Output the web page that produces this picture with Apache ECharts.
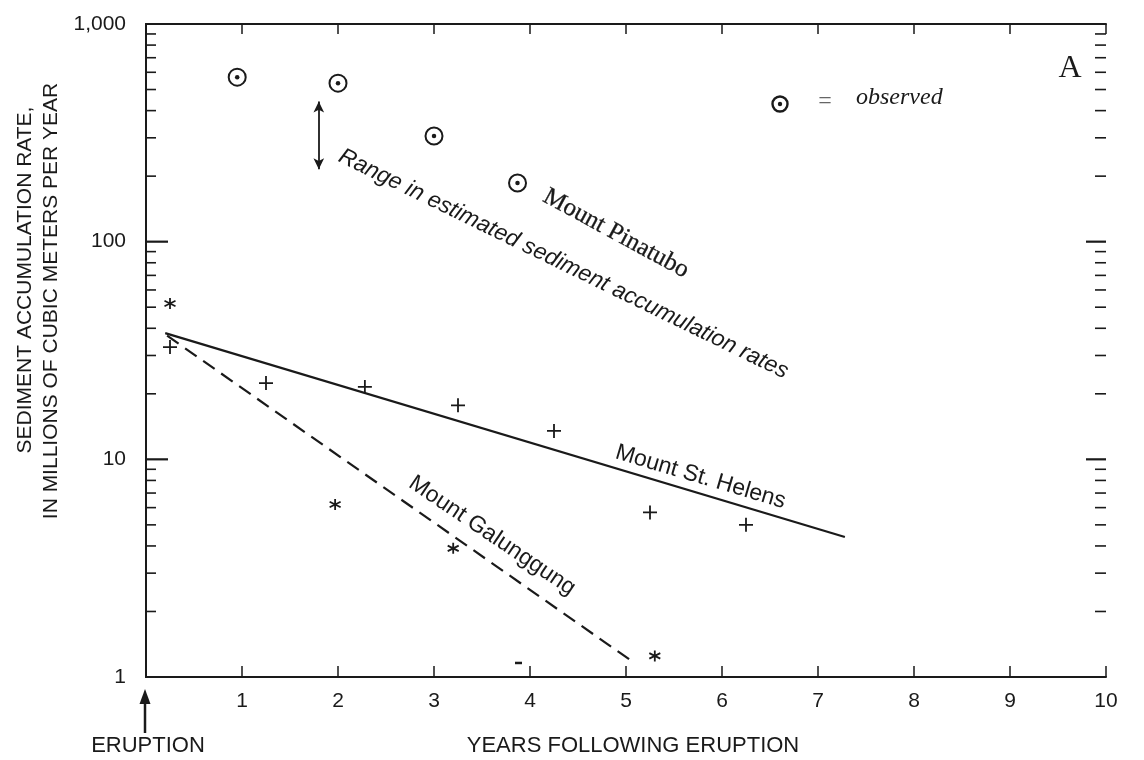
<!DOCTYPE html>
<html>
<head>
<meta charset="utf-8">
<script src="https://cdn.jsdelivr.net/npm/echarts@6/dist/echarts.min.js"></script>
<style>
  html, body { margin: 0; padding: 0; background: #fff; }
  #chart { width: 1144px; height: 760px; }
</style>
</head>
<body>
<div id="chart"></div>
<script>
// observed rates, Mount Pinatubo [years, rate]
const pinatuboYears = [0.95, 2.0, 3.0, 3.87];
const pinatuboRates = [570, 535, 306, 186];

// Mount St. Helens (+)
const helensYears = [0.25, 1.25, 2.28, 3.25, 4.25, 5.25, 6.25];
const helensRates = [32.8, 22.4, 21.5, 17.7, 13.5, 5.7, 5.0];

// Mount Galunggung (*)
const galunggungYears = [0.25, 1.97, 3.2, 5.3];
const galunggungRates = [52, 6.2, 3.9, 1.25];
const strayYears = [3.88];
const strayRates = [1.16];

// fitted trend lines (end points)
const helensFitYears = [0.2, 7.28];
const helensFitRates = [38, 4.4];
const galunggungFitYears = [0.22, 5.1];
const galunggungFitRates = [37, 1.15];

// range in estimated rates (double arrow)
const rangeYear = 1.8;
const rangeLow = 215;
const rangeHigh = 440;

// axis ticks
const xTickLabels = ['', '1', '2', '3', '4', '5', '6', '7', '8', '9', '10'];
const yTickLabels = ['1', '10', '100', '1,000'];
const yMajorTicks = [10, 100];
const yMinorTicks = [2, 3, 4, 5, 6, 7, 8, 9, 20, 30, 40, 50, 60, 70, 80, 90,
  200, 300, 400, 500, 600, 700, 800, 900];

const ink = '#1a1a1a';
const sans = '"Liberation Sans", Arial, Helvetica, sans-serif';
const serif = '"Liberation Serif", "Times New Roman", serif';

const pairs = (xs, ys) => xs.map((x, i) => [x, ys[i]]);
const deg = d => d * Math.PI / 180;

let myChart = echarts.init(document.getElementById('chart'));

let option = {
  backgroundColor: '#fff',
  animation: false,
  grid: { left: 146, right: 38, top: 24, bottom: 83 },
  xAxis: [
    {
      type: 'value', min: 0, max: 10, interval: 1,
      axisLine: { lineStyle: { color: ink, width: 2 } },
      axisTick: { inside: true, length: 11, lineStyle: { color: ink, width: 1.5 } },
      axisLabel: {
        margin: 14, color: ink, fontFamily: sans, fontSize: 21,
        formatter: (v) => xTickLabels[Math.round(v)]
      },
      splitLine: { show: false }
    },
    {
      type: 'value', min: 0, max: 10, interval: 1, position: 'top',
      axisLine: { lineStyle: { color: ink, width: 2 } },
      axisTick: { inside: true, length: 10, lineStyle: { color: ink, width: 1.5 } },
      axisLabel: { show: false },
      splitLine: { show: false }
    }
  ],
  yAxis: [
    {
      type: 'log', logBase: 10, min: 1, max: 1000,
      axisLine: { show: true, lineStyle: { color: ink, width: 2 } },
      axisTick: { show: false },
      axisLabel: {
        margin: 20, color: ink, fontFamily: sans, fontSize: 21,
        formatter: (v) => yTickLabels[Math.round(Math.log10(v))]
      },
      splitLine: { show: false }
    },
    {
      type: 'log', logBase: 10, min: 1, max: 1000, position: 'right',
      axisLine: { show: true, lineStyle: { color: ink, width: 2 } },
      axisTick: { show: false },
      axisLabel: { show: false },
      splitLine: { show: false }
    }
  ],
  series: [
    {
      // log ticks drawn inward on both y axes
      type: 'custom',
      silent: true,
      clip: false,
      data: yMajorTicks.concat(yMinorTicks).map(v => [0, v]),
      renderItem: function (params, api) {
        const v = api.value(1);
        const major = yMajorTicks.indexOf(v) >= 0;
        const pl = api.coord([0, v]);
        const pr = api.coord([10, v]);
        const ll = major ? 22 : 10;
        const lr = major ? 20 : 11;
        const w = major ? 2.2 : 1.6;
        return {
          type: 'group',
          children: [
            { type: 'line', shape: { x1: pl[0], y1: pl[1], x2: pl[0] + ll, y2: pl[1] },
              style: { stroke: ink, lineWidth: w } },
            { type: 'line', shape: { x1: pr[0] - lr, y1: pr[1], x2: pr[0], y2: pr[1] },
              style: { stroke: ink, lineWidth: w } }
          ]
        };
      }
    },
    {
      name: 'Mount St. Helens fit',
      type: 'line',
      symbol: 'none',
      silent: true,
      lineStyle: { color: ink, width: 2.2 },
      data: pairs(helensFitYears, helensFitRates)
    },
    {
      name: 'Mount Galunggung fit',
      type: 'line',
      symbol: 'none',
      silent: true,
      lineStyle: { color: ink, width: 2.2, type: [14, 8] },
      data: pairs(galunggungFitYears, galunggungFitRates)
    },
    {
      name: 'Mount St. Helens',
      type: 'scatter',
      symbol: 'path://M0,6H12M6,0V12',
      symbolSize: 14,
      itemStyle: { color: 'transparent', borderColor: ink, borderWidth: 1.8, opacity: 1 },
      data: pairs(helensYears, helensRates)
    },
    {
      name: 'Mount Galunggung',
      type: 'scatter',
      symbol: 'path://M5,0V10M0.7,2.5L9.3,7.5M0.7,7.5L9.3,2.5',
      symbolSize: 11,
      itemStyle: { color: 'transparent', borderColor: ink, borderWidth: 1.8, opacity: 1 },
      data: pairs(galunggungYears, galunggungRates)
    },
    {
      type: 'scatter',
      symbol: 'rect',
      symbolSize: [7, 2.5],
      itemStyle: { color: ink, opacity: 1 },
      data: pairs(strayYears, strayRates)
    },
    {
      name: 'Mount Pinatubo',
      type: 'scatter',
      symbol: 'emptyCircle',
      symbolSize: 17,
      itemStyle: { color: ink, borderColor: ink, borderWidth: 2.4, opacity: 1 },
      data: pairs(pinatuboYears, pinatuboRates),
      markLine: {
        silent: true,
        symbol: ['arrow', 'arrow'],
        symbolSize: [8, 11],
        label: { show: false },
        lineStyle: { color: ink, width: 1.8, type: 'solid', opacity: 1 },
        data: [[{ coord: [rangeYear, rangeLow] }, { coord: [rangeYear, rangeHigh] }]]
      }
    },
    {
      type: 'scatter',
      symbol: 'circle',
      symbolSize: 4.5,
      itemStyle: { color: ink, opacity: 1 },
      data: pairs(pinatuboYears, pinatuboRates)
    }
  ],
  graphic: [
    // y axis title
    {
      type: 'text', x: 25, y: 280, rotation: Math.PI / 2,
      style: { text: 'SEDIMENT ACCUMULATION RATE,', font: '21px ' + sans, fill: ink,
        textAlign: 'center', textVerticalAlign: 'middle' }
    },
    {
      type: 'text', x: 51, y: 301, rotation: Math.PI / 2,
      style: { text: 'IN MILLIONS OF CUBIC METERS PER YEAR', font: '21px ' + sans, fill: ink,
        textAlign: 'center', textVerticalAlign: 'middle' }
    },
    // x axis title
    {
      type: 'text', x: 633, y: 746,
      style: { text: 'YEARS FOLLOWING ERUPTION', font: '22px ' + sans, fill: ink,
        textAlign: 'center', textVerticalAlign: 'middle' }
    },
    {
      type: 'text', x: 148, y: 746,
      style: { text: 'ERUPTION', font: '22px ' + sans, fill: ink,
        textAlign: 'center', textVerticalAlign: 'middle' }
    },
    {
      type: 'line', shape: { x1: 145, y1: 733, x2: 145, y2: 700 },
      style: { stroke: ink, lineWidth: 2.5 }
    },
    {
      type: 'polygon', shape: { points: [[145, 689], [139.5, 704], [150.5, 704]] },
      style: { fill: ink }
    },
    // panel letter and legend
    {
      type: 'text', x: 1070, y: 69,
      style: { text: 'A', font: '32px ' + serif, fill: ink,
        textAlign: 'center', textVerticalAlign: 'middle' }
    },
    {
      type: 'circle', shape: { cx: 780, cy: 104, r: 7.5 },
      style: { fill: '#fff', stroke: ink, lineWidth: 2.4 }
    },
    {
      type: 'circle', shape: { cx: 780, cy: 104, r: 2.2 },
      style: { fill: ink }
    },
    {
      type: 'text', x: 825, y: 102,
      style: { text: '=', font: '24px ' + serif, fill: '#666',
        textAlign: 'center', textVerticalAlign: 'middle' }
    },
    {
      type: 'text', x: 856, y: 98,
      style: { text: 'observed', font: 'italic 24px ' + serif, fill: ink,
        textAlign: 'left', textVerticalAlign: 'middle' }
    },
    // curve annotations
    {
      type: 'text', x: 340, y: 155, rotation: deg(-26),
      style: { text: 'Range in estimated sediment accumulation rates', font: 'italic 23px ' + sans,
        fill: ink, textAlign: 'left', textVerticalAlign: 'middle' }
    },
    {
      type: 'text', x: 545, y: 195, rotation: deg(-28.5),
      style: { text: 'Mount Pinatubo', font: '25px ' + serif,
        fill: ink, textAlign: 'left', textVerticalAlign: 'middle', stroke: ink, lineWidth: 0.3 }
    },
    {
      type: 'text', x: 616, y: 452, rotation: deg(-16.5),
      style: { text: 'Mount St. Helens', font: '23px ' + sans,
        fill: ink, textAlign: 'left', textVerticalAlign: 'middle' }
    },
    {
      type: 'text', x: 411, y: 481, rotation: deg(-34),
      style: { text: 'Mount Galunggung', font: '23px ' + sans,
        fill: ink, textAlign: 'left', textVerticalAlign: 'middle' }
    }
  ]
};

myChart.setOption(option);
</script>
</body>
</html>
